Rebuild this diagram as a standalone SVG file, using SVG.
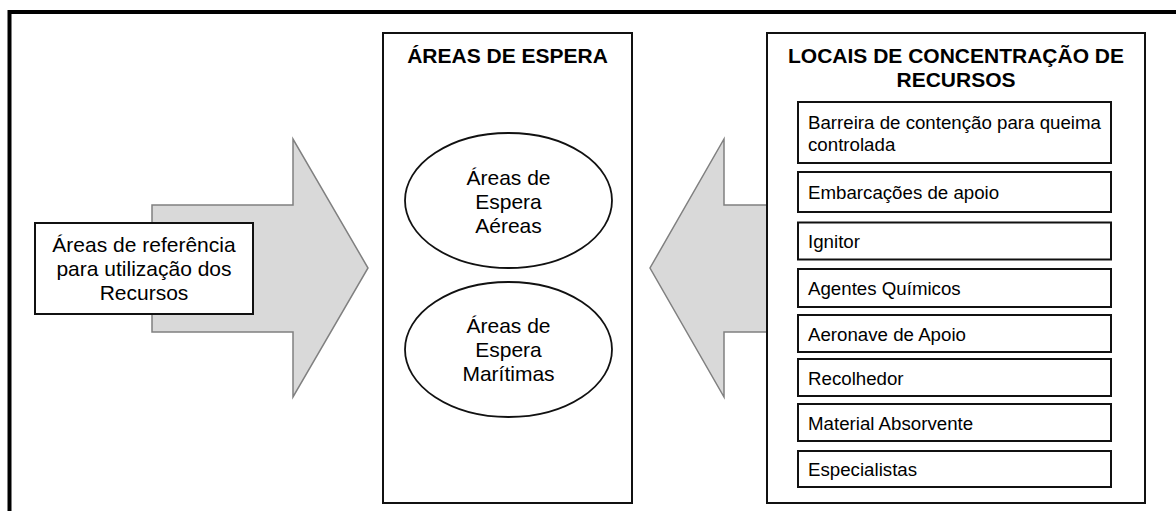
<svg xmlns="http://www.w3.org/2000/svg" width="1176" height="511" viewBox="0 0 1176 511">
<style>
text{font-family:"Liberation Sans",Arial,sans-serif;fill:#000}
.t{font-size:21px;text-anchor:middle}
.b{font-size:21px;font-weight:bold;text-anchor:middle}
.s{font-size:18.7px}
.arrow{fill:#d9d9d9;stroke:#808080;stroke-width:1.5}
.box{fill:#fff;stroke:#111;stroke-width:2}
.item{fill:#fff;stroke:#111;stroke-width:2}
</style>
<rect x="0" y="0" width="1176" height="511" fill="#fff"/>
<rect x="9.5" y="12" width="1200" height="600" fill="none" stroke="#000" stroke-width="4"/>
<g id="connectors">
<polygon class="arrow" points="152,205 293,205 293,139 368,268 293,397 293,332 152,332"/>
<polygon class="arrow" points="800,205 724,205 724,139 650,268 724,397 724,332 800,332"/>
</g>
<g id="ref-box">
<rect class="box" x="35" y="223" width="218" height="91"/>
<text class="t" x="144" y="252">Áreas de referência</text>
<text class="t" x="144" y="276">para utilização dos</text>
<text class="t" x="144" y="300">Recursos</text>
</g>
<g id="areas-espera">
<rect class="box" x="383" y="33" width="249" height="470"/>
<text class="b" x="507.5" y="62.5">ÁREAS DE ESPERA</text>
</g>
<g id="espera-aereas">
<ellipse cx="508.5" cy="200.5" rx="103.5" ry="67.5" fill="#fff" stroke="#111" stroke-width="1.8"/>
<text class="t" x="508.5" y="185">Áreas de</text>
<text class="t" x="508.5" y="209">Espera</text>
<text class="t" x="508.5" y="233">Aéreas</text>
</g>
<g id="espera-maritimas">
<ellipse cx="508.5" cy="349.5" rx="103.5" ry="67.5" fill="#fff" stroke="#111" stroke-width="1.8"/>
<text class="t" x="508.5" y="333">Áreas de</text>
<text class="t" x="508.5" y="357">Espera</text>
<text class="t" x="508.5" y="381">Marítimas</text>
</g>
<g id="locais">
<rect class="box" x="767" y="33" width="378" height="470"/>
<text class="b" x="956" y="63">LOCAIS DE CONCENTRAÇÃO DE</text>
<text class="b" x="956" y="87">RECURSOS</text>
</g>
<g id="item-barreira">
<rect class="item" x="798" y="102" width="313" height="61"/>
<text class="s" x="808" y="129">Barreira de contenção para queima</text>
<text class="s" x="808" y="151">controlada</text>
</g>
<g id="item-embarcacoes">
<rect class="item" x="798" y="172" width="313" height="40"/>
<text class="s" x="808" y="199">Embarcações de apoio</text>
</g>
<g id="item-ignitor">
<rect class="item" x="798" y="222.5" width="313" height="37"/>
<text class="s" x="808" y="248">Ignitor</text>
</g>
<g id="item-agentes">
<rect class="item" x="798" y="269" width="313" height="38"/>
<text class="s" x="808" y="295">Agentes Químicos</text>
</g>
<g id="item-aeronave">
<rect class="item" x="798" y="315" width="313" height="37"/>
<text class="s" x="808" y="340.5">Aeronave de Apoio</text>
</g>
<g id="item-recolhedor">
<rect class="item" x="798" y="359" width="313" height="37"/>
<text class="s" x="808" y="385">Recolhedor</text>
</g>
<g id="item-material">
<rect class="item" x="798" y="404" width="313" height="37"/>
<text class="s" x="808" y="430">Material Absorvente</text>
</g>
<g id="item-especialistas">
<rect class="item" x="798" y="451" width="313" height="36"/>
<text class="s" x="808" y="476">Especialistas</text>
</g>
</svg>
